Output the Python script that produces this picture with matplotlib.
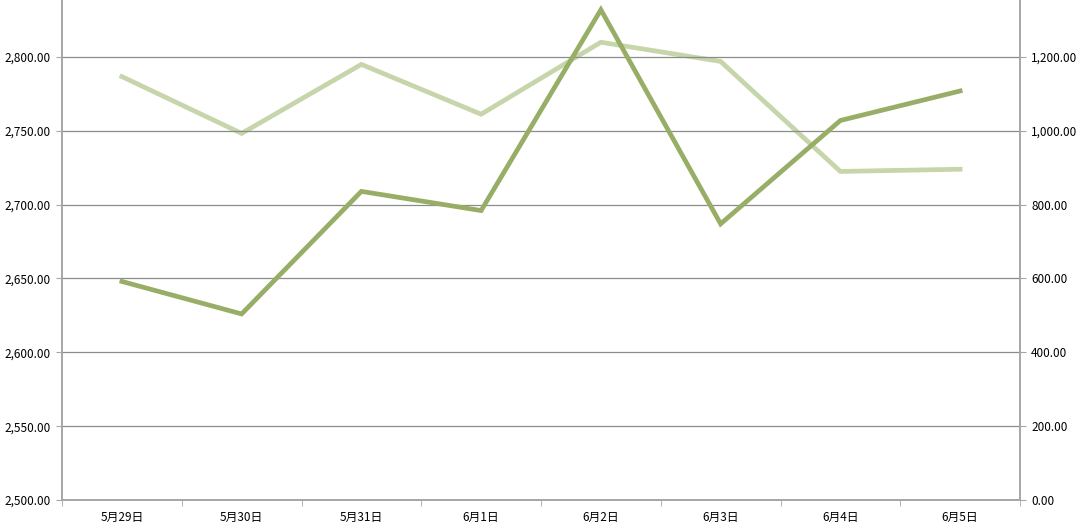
import matplotlib.pyplot as plt
import numpy as np

plt.rcParams['font.family'] = ['Noto Sans CJK JP', 'DejaVu Sans']

dates = ["5月29日", "5月30日", "5月31日", "6月1日", "6月2日", "6月3日", "6月4日", "6月5日"]
dark_vals = [2648, 2626, 2709, 2696, 2832, 2687, 2757, 2777]   # left axis
light_vals = [1147, 993, 1180, 1045, 1240, 1188, 890, 896]      # right axis

dark = "#98ae67"
light = "#c6d5aa"
grid_c = "#8c8c8c"
spine_c = "#a6a6a6"

fig = plt.figure(figsize=(10.8, 5.28), dpi=100)
ax = fig.add_axes([62 / 1080, 28 / 528, (1020 - 62) / 1080, 500 / 528])
ax2 = ax.twinx()

x = np.arange(len(dates))
ax.plot(x, dark_vals, color=dark, lw=3.4, solid_joinstyle="miter", zorder=3)
ax2.plot(x, light_vals, color=light, lw=3.4, solid_joinstyle="miter", zorder=2)

ax.set_xlim(-0.5, len(dates) - 0.5)
ax.set_ylim(2500, 2838.6)
ax2.set_ylim(0, 1354.4)
ax.set_yticks(np.arange(2500, 2801, 50))
ax2.set_yticks(np.arange(0, 1201, 200))
ax.set_yticklabels([f"{v:,.2f}" for v in np.arange(2500, 2801, 50)])
ax2.set_yticklabels([f"{v:,.2f}" for v in np.arange(0, 1201, 200)])

ax.set_xticks(x)
ax.set_xticklabels(dates)
ax.set_xticks(np.arange(-0.5, len(dates)), minor=True)
ax.tick_params(axis="x", which="major", length=0, pad=8, labelsize=8.5)
ax.tick_params(axis="x", which="minor", length=4, color=spine_c)
ax.tick_params(axis="y", length=4, color=spine_c, labelsize=8.5, pad=4)
ax2.tick_params(axis="y", length=4, color=spine_c, labelsize=8.5, pad=4)

ax.grid(axis="y", color=grid_c, lw=0.9)
ax.set_axisbelow(True)
ax.set_zorder(ax2.get_zorder() + 1)
ax.patch.set_visible(False)

for a in (ax, ax2):
    a.spines["top"].set_visible(False)
    for s in ("left", "right", "bottom"):
        a.spines[s].set_color(spine_c)
        a.spines[s].set_linewidth(1.2)

fig.savefig("out.png", dpi=100)
